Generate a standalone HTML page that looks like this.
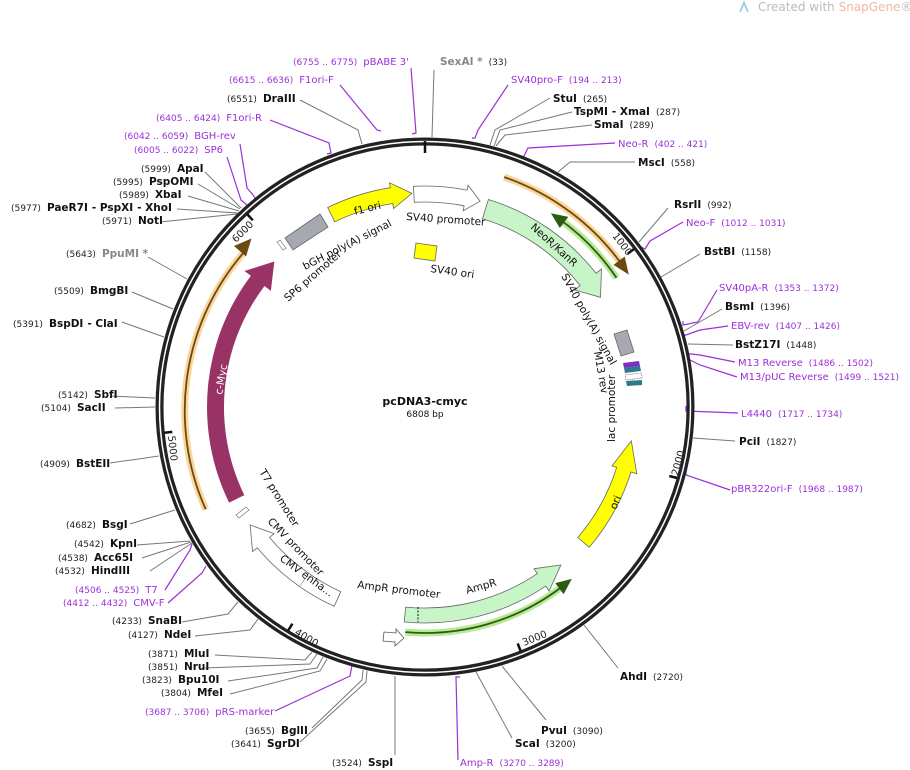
<!DOCTYPE html>
<html><head><meta charset="utf-8"><style>
html,body{margin:0;padding:0;background:#fff;}
svg{display:block;font-family:"DejaVu Sans","Liberation Sans",sans-serif;}
.n{font-size:10.5px;font-weight:bold;fill:#111;}
.c{font-size:9px;fill:#222;}
.p{font-size:10px;fill:#9b30d9;}
.pc{font-size:9px;fill:#9b30d9;}
.g{font-size:10.5px;font-weight:bold;fill:#888;}
.l{stroke:#777;stroke-width:1;fill:none;}
.pl{stroke:#9b30d9;stroke-width:1.2;fill:none;}
.f{font-size:10.5px;fill:#111;}
</style></head><body>
<svg width="910" height="770" viewBox="0 0 910 770" xmlns="http://www.w3.org/2000/svg">
<text x="758" y="11" style="font-size:12px;fill:#bbb;">Created with <tspan fill="#f0b9a0">SnapGene</tspan>®</text>
<path d="M740 12 L744 3 L748 12" stroke="#9cd3e6" stroke-width="2" fill="none"/>

<g class="l">
<path d="M434 70 L432 137"/>
<path d="M300 100 L358 130 L362 144"/>
<path d="M205 172 L241 208"/><path d="M198 184 L240 209"/><path d="M188 196 L239 211"/><path d="M177 209 L238 213"/><path d="M160 222 L237 214"/>
<path d="M148 257 L187 279"/><path d="M132 292 L173 309"/><path d="M122 322 L164 337"/>
<path d="M110 396 L155 398"/><path d="M115 408 L155 407"/><path d="M110 463 L159 456"/>
<path d="M130 524 L175 510"/><path d="M137 545 L190 541"/><path d="M142 558 L191 542"/><path d="M150 571 L192 543"/>
<path d="M182 622 L228 614 L238 602"/><path d="M195 636 L250 630 L258 619"/>
<path d="M215 655 L305 660 L312 652"/><path d="M205 668 L310 664 L317 654"/><path d="M228 681 L317 668 L323 657"/><path d="M230 694 L320 671 L327 659"/>
<path d="M312 728 L362 680 L363 670"/><path d="M300 742 L366 682 L367 671"/>
<path d="M395 755 L395 676"/>
<path d="M512 738 L476 672"/><path d="M546 720 L502 666"/><path d="M618 668 L584 625"/>
<path d="M735 441 L693 438"/><path d="M733 345 L688 344"/><path d="M722 309 L684 331"/><path d="M700 254 L661 277"/>
<path d="M668 208 L639 242"/><path d="M635 162 L570 162 L558 172"/>
<path d="M592 125 L505 135 L496 146"/><path d="M572 112 L500 130 L494 146"/><path d="M550 98 L495 130 L490 145"/>
</g>
<g class="pl">
<path d="M411 68 L416 133 L412 134"/>
<path d="M340 85 L377 130 L381 131"/>
<path d="M270 120 L329 143 L331 153 L327 154"/>
<path d="M240 144 L247 188 L254 196 L256 202"/>
<path d="M227 157 L241 200 L247 205 L249 208"/>
<path d="M165 590 L190 550 L192 544"/>
<path d="M168 603 L202 573 L206 566"/>
<path d="M275 711 L350 676 L353 660 L357 661"/>
<path d="M458 760 L456 677 L460 677"/>
<path d="M730 490 L686 475 L686 471"/>
<path d="M738 413 L686 411 L686 406"/>
<path d="M737 377 L700 365 L682 356"/>
<path d="M735 362 L700 355 L682 353"/>
<path d="M728 326 L700 330 L683 336 L683 333"/>
<path d="M717 290 L698 322 L683 325 L683 321"/>
<path d="M683 222 L650 241 L645 249 L641 247"/>
<path d="M615 143 L528 148 L523 158 L520 157"/>
<path d="M508 85 L478 130 L475 138 L472 138"/>
</g>

<circle cx="425" cy="407" r="265.5" fill="none" stroke="#222" stroke-width="8"/>
<circle cx="425" cy="407" r="265.5" fill="none" stroke="#fff" stroke-width="1.5"/>
<g stroke="#111" stroke-width="2.5">
<line x1="425" y1="141" x2="425" y2="153"/>
<line x1="634" y1="249" x2="627.7" y2="253.8"/>
<line x1="677" y1="478" x2="669.3" y2="476"/>
<line x1="520.6" y1="651" x2="517.7" y2="643.5"/>
<line x1="288.2" y1="630.5" x2="292.4" y2="623.7"/>
<line x1="164.3" y1="432.7" x2="172.3" y2="431.9"/>
<line x1="247.4" y1="214.4" x2="252.8" y2="220.3"/>
</g>
<g class="c" style="font-size:10px">
<text transform="translate(612,236) rotate(53)">1000</text>
<text transform="translate(678,476) rotate(-75)">2000</text>
<text transform="translate(524,646) rotate(-22)">3000</text>
<text transform="translate(294,634) rotate(31)">4000</text>
<text transform="translate(168,436) rotate(84)">5000</text>
<text transform="translate(236,243) rotate(-45)">6000</text>
</g>

<path d="M504.2 177.1 A242 242 0 0 1 624 267.5" fill="none" stroke="#f9c56f" stroke-width="7" opacity="0.7"/>
<path d="M504.2 177.1 A242 242 0 0 1 624 267.5" fill="none" stroke="#6b4a12" stroke-width="1.8"/>
<path d="M628.8 274.6 L613.5 264.9 L624.7 256.5 Z" fill="#6b4a12"/>
<path d="M557.6 217.8 A230 230 0 0 1 616.5 277.9" fill="none" stroke="#a6e37a" stroke-width="7" opacity="0.8"/>
<path d="M557.6 217.8 A230 230 0 0 1 616.5 277.9" fill="none" stroke="#2d5b13" stroke-width="1.8"/>
<path d="M550.9 213.2 L559.8 228 L568.3 216.9 Z" fill="#2d5b13"/>
<path d="M205.7 509.3 A242 242 0 0 1 245 251" fill="none" stroke="#f9c56f" stroke-width="7" opacity="0.7"/>
<path d="M205.7 509.3 A242 242 0 0 1 245 251" fill="none" stroke="#6b4a12" stroke-width="1.8"/>
<path d="M251.5 238.5 L246 256.5 L234 246 Z" fill="#6b4a12"/>
<path d="M405.3 632.1 A226 226 0 0 0 561 587.5" fill="none" stroke="#a6e37a" stroke-width="7" opacity="0.8"/>
<path d="M405.3 632.1 A226 226 0 0 0 561 587.5" fill="none" stroke="#2d5b13" stroke-width="1.8"/>
<path d="M571.8 578.9 L555.3 583.1 L563.6 594.3 Z" fill="#2d5b13"/>

<path d="M413.4 186.3 A221 221 0 0 1 467.2 190.1 L468.1 185.2 L480.1 201.3 L463.2 210.7 L464.1 205.8 A205 205 0 0 0 414.3 202.3 Z" fill="#fff" stroke="#666" stroke-width="0.8"/>
<path d="M327.7 207.5 A222 222 0 0 1 390.3 187.7 L389.5 182.8 L411.9 193.4 L393.6 208.5 L392.8 203.5 A206 206 0 0 0 334.7 221.8 Z" fill="#ffff00" stroke="#666" stroke-width="0.8"/>
<text class="f" transform="translate(355,215) rotate(-14)">f1 ori</text>
<path d="M488.4 199.5 A217 217 0 0 1 596 273.3 L601.5 269 L600.5 297.3 L574.7 290 L580.2 285.6 A197 197 0 0 0 482.5 218.7 Z" fill="#c8f5c8" stroke="#666" stroke-width="0.8"/>
<text class="f" transform="translate(530,228) rotate(42)">NeoR/KanR</text>
<polygon points="285,238 320,214 328,227 293,250" fill="#a6aab0" stroke="#666" stroke-width="0.8"/>
<polygon points="277,242 283,250 286,248 280,240" fill="#fff" stroke="#666" stroke-width="0.6"/>
<text class="f" transform="translate(305,270) rotate(-27)">bGH poly(A) signal</text>
<text class="f" transform="translate(288,302) rotate(-41)">SP6 promoter</text>
<polygon points="416,243 437,246 435,261 414,258" fill="#ffff00" stroke="#666" stroke-width="0.8"/>
<text class="f" transform="translate(430,272) rotate(8)">SV40 ori</text>
<text class="f" transform="translate(406,220) rotate(4)">SV40 promoter</text>
<text class="f" transform="translate(561,276) rotate(61)">SV40 poly(A) signal</text>
<text class="f" transform="translate(594,352) rotate(80)">M13 rev</text>
<text class="f" transform="translate(615,442) rotate(-90)">lac promoter</text>
<polygon points="614,334 627,330 634,352 621,356" fill="#a6aab0" stroke="#666" stroke-width="0.8"/>
<polygon points="623,363 639,361 640,366 624,368" fill="#7a2fc0"/>
<polygon points="624,368 640,366 641,371 625,373" fill="#2f7a8a"/>
<polygon points="625,375 641,373 642,378 626,380" fill="#fff" stroke="#555" stroke-width="0.6" stroke-dasharray="1.5,1"/>
<polygon points="626,381 642,380 642,385 627,386" fill="#2f7a8a"/>
<path d="M589.2 547.3 A216 216 0 0 0 631 472 L636.8 473.8 L631.3 440.8 L612 465.9 L616.7 467.4 A201 201 0 0 1 577.8 537.5 Z" fill="#ffff00" stroke="#666" stroke-width="0.8"/>
<text class="f" transform="translate(616,510) rotate(-67)">ori</text>
<path d="M404.3 622 A216 216 0 0 0 545.8 586.1 L549.1 591 L560.9 565 L534 568.7 L537.4 573.6 A201 201 0 0 1 405.7 607.1 Z" fill="#c8f5c8" stroke="#666" stroke-width="0.8"/>
<line x1="418" y1="607" x2="418" y2="622" stroke="#111" stroke-dasharray="2,1.5"/>
<text class="f" transform="translate(467,594) rotate(-16)">AmpR</text>
<text class="f" transform="translate(357,588) rotate(7)">AmpR promoter</text>
<polygon points="384,632 396,633 396,629 404,638 395,646 395,642 383,641" fill="#fff" stroke="#555" stroke-width="0.8"/>
<path d="M229.1 502.6 A218 218 0 0 1 250.9 275.8 L244.5 271 L274.3 261.5 L270.9 290.9 L264.5 286 A201 201 0 0 0 244.3 495.1 Z" fill="#993366"/>
<text transform="translate(222,395) rotate(-80)" style="font-size:10.5px;fill:#fff;">c-Myc</text>
<path d="M334.2 606.3 A219 219 0 0 1 299.4 586.4 L308.6 573.3 A203 203 0 0 0 340.8 591.7 Z" fill="#fff" stroke="#666" stroke-width="0.8"/>
<path d="M299.4 586.4 A219 219 0 0 1 257.2 547.8 L252.6 551.6 L250.1 525 L274.1 533.6 L269.5 537.5 A203 203 0 0 0 308.6 573.3" fill="#fff" stroke="#666" stroke-width="0.8"/>
<polygon points="236,515 246,507 249,510 239,518" fill="#fff" stroke="#666" stroke-width="0.6"/>
<text class="f" transform="translate(279,560) rotate(36)">CMV enha...</text>
<text class="f" transform="translate(267,522) rotate(46)">CMV promoter</text>
<text class="f" transform="translate(259,472) rotate(58)">T7 promoter</text>

<text x="425" y="405" text-anchor="middle" style="font-size:11px;font-weight:bold;fill:#111">pcDNA3-cmyc</text>
<text x="425" y="417" text-anchor="middle" style="font-size:9px;fill:#111">6808 bp</text>

<text x="293" y="65"><tspan class="pc">(6755 .. 6775)</tspan><tspan class="p" dx="6">pBABE 3'</tspan></text>
<text x="440" y="65"><tspan class="g">SexAI *</tspan><tspan class="c" dx="6">(33)</tspan></text>
<text x="229" y="83"><tspan class="pc">(6615 .. 6636)</tspan><tspan class="p" dx="6">F1ori-F</tspan></text>
<text x="227" y="102"><tspan class="c">(6551)</tspan><tspan class="n" dx="6">DraIII</tspan></text>
<text x="156" y="121"><tspan class="pc">(6405 .. 6424)</tspan><tspan class="p" dx="6">F1ori-R</tspan></text>
<text x="124" y="139"><tspan class="pc">(6042 .. 6059)</tspan><tspan class="p" dx="6">BGH-rev</tspan></text>
<text x="134" y="153"><tspan class="pc">(6005 .. 6022)</tspan><tspan class="p" dx="6">SP6</tspan></text>
<text x="141" y="172"><tspan class="c">(5999)</tspan><tspan class="n" dx="6">ApaI</tspan></text>
<text x="113" y="185"><tspan class="c">(5995)</tspan><tspan class="n" dx="6">PspOMI</tspan></text>
<text x="119" y="198"><tspan class="c">(5989)</tspan><tspan class="n" dx="6">XbaI</tspan></text>
<text x="11" y="211"><tspan class="c">(5977)</tspan><tspan class="n" dx="6">PaeR7I</tspan><tspan class="n" dx="4">- PspXI</tspan><tspan class="n" dx="4">- XhoI</tspan></text>
<text x="102" y="224"><tspan class="c">(5971)</tspan><tspan class="n" dx="6">NotI</tspan></text>
<text x="66" y="257"><tspan class="c">(5643)</tspan><tspan class="g" dx="6">PpuMI *</tspan></text>
<text x="54" y="294"><tspan class="c">(5509)</tspan><tspan class="n" dx="6">BmgBI</tspan></text>
<text x="13" y="327"><tspan class="c">(5391)</tspan><tspan class="n" dx="6">BspDI</tspan><tspan class="n" dx="4">- ClaI</tspan></text>
<text x="58" y="398"><tspan class="c">(5142)</tspan><tspan class="n" dx="6">SbfI</tspan></text>
<text x="41" y="411"><tspan class="c">(5104)</tspan><tspan class="n" dx="6">SacII</tspan></text>
<text x="40" y="467"><tspan class="c">(4909)</tspan><tspan class="n" dx="6">BstEII</tspan></text>
<text x="66" y="528"><tspan class="c">(4682)</tspan><tspan class="n" dx="6">BsgI</tspan></text>
<text x="74" y="547"><tspan class="c">(4542)</tspan><tspan class="n" dx="6">KpnI</tspan></text>
<text x="58" y="561"><tspan class="c">(4538)</tspan><tspan class="n" dx="6">Acc65I</tspan></text>
<text x="55" y="574"><tspan class="c">(4532)</tspan><tspan class="n" dx="6">HindIII</tspan></text>
<text x="75" y="593"><tspan class="pc">(4506 .. 4525)</tspan><tspan class="p" dx="6">T7</tspan></text>
<text x="63" y="606"><tspan class="pc">(4412 .. 4432)</tspan><tspan class="p" dx="6">CMV-F</tspan></text>
<text x="112" y="624"><tspan class="c">(4233)</tspan><tspan class="n" dx="6">SnaBI</tspan></text>
<text x="128" y="638"><tspan class="c">(4127)</tspan><tspan class="n" dx="6">NdeI</tspan></text>
<text x="148" y="657"><tspan class="c">(3871)</tspan><tspan class="n" dx="6">MluI</tspan></text>
<text x="148" y="670"><tspan class="c">(3851)</tspan><tspan class="n" dx="6">NruI</tspan></text>
<text x="142" y="683"><tspan class="c">(3823)</tspan><tspan class="n" dx="6">Bpu10I</tspan></text>
<text x="161" y="696"><tspan class="c">(3804)</tspan><tspan class="n" dx="6">MfeI</tspan></text>
<text x="145" y="715"><tspan class="pc">(3687 .. 3706)</tspan><tspan class="p" dx="6">pRS-marker</tspan></text>
<text x="245" y="734"><tspan class="c">(3655)</tspan><tspan class="n" dx="6">BglII</tspan></text>
<text x="231" y="747"><tspan class="c">(3641)</tspan><tspan class="n" dx="6">SgrDI</tspan></text>
<text x="332" y="766"><tspan class="c">(3524)</tspan><tspan class="n" dx="6">SspI</tspan></text>
<text x="460" y="766"><tspan class="p">Amp-R</tspan><tspan class="pc" dx="6">(3270 .. 3289)</tspan></text>
<text x="515" y="747"><tspan class="n">ScaI</tspan><tspan class="c" dx="6">(3200)</tspan></text>
<text x="541" y="734"><tspan class="n">PvuI</tspan><tspan class="c" dx="6">(3090)</tspan></text>
<text x="620" y="680"><tspan class="n">AhdI</tspan><tspan class="c" dx="6">(2720)</tspan></text>
<text x="731" y="492"><tspan class="p">pBR322ori-F</tspan><tspan class="pc" dx="6">(1968 .. 1987)</tspan></text>
<text x="739" y="445"><tspan class="n">PciI</tspan><tspan class="c" dx="6">(1827)</tspan></text>
<text x="741" y="417"><tspan class="p">L4440</tspan><tspan class="pc" dx="6">(1717 .. 1734)</tspan></text>
<text x="740" y="380"><tspan class="p">M13/pUC Reverse</tspan><tspan class="pc" dx="6">(1499 .. 1521)</tspan></text>
<text x="738" y="366"><tspan class="p">M13 Reverse</tspan><tspan class="pc" dx="6">(1486 .. 1502)</tspan></text>
<text x="735" y="348"><tspan class="n">BstZ17I</tspan><tspan class="c" dx="6">(1448)</tspan></text>
<text x="731" y="329"><tspan class="p">EBV-rev</tspan><tspan class="pc" dx="6">(1407 .. 1426)</tspan></text>
<text x="725" y="310"><tspan class="n">BsmI</tspan><tspan class="c" dx="6">(1396)</tspan></text>
<text x="719" y="291"><tspan class="p">SV40pA-R</tspan><tspan class="pc" dx="6">(1353 .. 1372)</tspan></text>
<text x="704" y="255"><tspan class="n">BstBI</tspan><tspan class="c" dx="6">(1158)</tspan></text>
<text x="686" y="226"><tspan class="p">Neo-F</tspan><tspan class="pc" dx="6">(1012 .. 1031)</tspan></text>
<text x="674" y="208"><tspan class="n">RsrII</tspan><tspan class="c" dx="6">(992)</tspan></text>
<text x="638" y="166"><tspan class="n">MscI</tspan><tspan class="c" dx="6">(558)</tspan></text>
<text x="618" y="147"><tspan class="p">Neo-R</tspan><tspan class="pc" dx="6">(402 .. 421)</tspan></text>
<text x="594" y="128"><tspan class="n">SmaI</tspan><tspan class="c" dx="6">(289)</tspan></text>
<text x="574" y="115"><tspan class="n">TspMI</tspan><tspan class="n" dx="4">- XmaI</tspan><tspan class="c" dx="6">(287)</tspan></text>
<text x="553" y="102"><tspan class="n">StuI</tspan><tspan class="c" dx="6">(265)</tspan></text>
<text x="511" y="83"><tspan class="p">SV40pro-F</tspan><tspan class="pc" dx="6">(194 .. 213)</tspan></text>
</svg>
</body></html>
